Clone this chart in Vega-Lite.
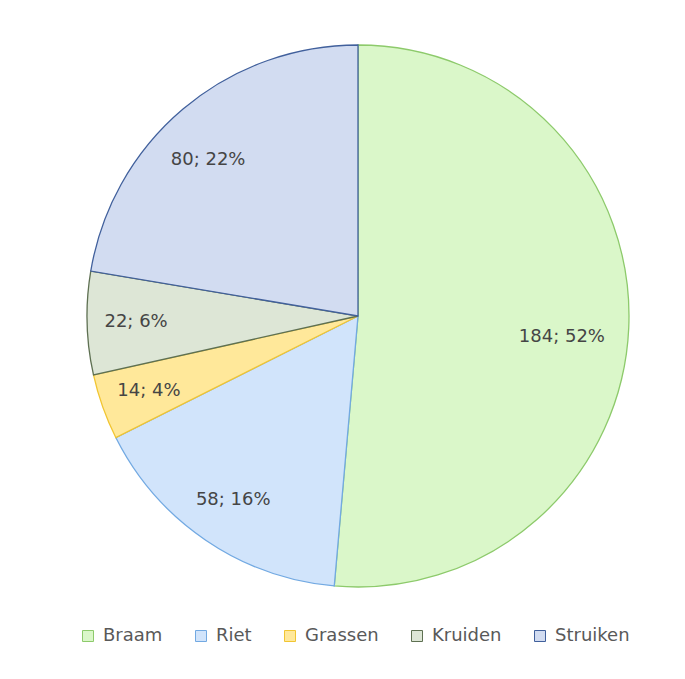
{
  "$schema": "https://vega.github.io/schema/vega-lite/v6.json",
  "width": 542,
  "height": 542,
  "autosize": {"type": "none"},
  "padding": {"left": 87, "top": 45, "right": 56, "bottom": 92},
  "background": "white",
  "config": {"view": {"stroke": null}, "font": "DejaVu Sans"},
  "data": {
    "values": [
      {"category": "Braam", "value": 184, "label": "184; 52%", "order": 1},
      {"category": "Riet", "value": 58, "label": "58; 16%", "order": 2},
      {"category": "Grassen", "value": 14, "label": "14; 4%", "order": 3},
      {"category": "Kruiden", "value": 22, "label": "22; 6%", "order": 4},
      {"category": "Struiken", "value": 80, "label": "80; 22%", "order": 5}
    ]
  },
  "transform": [
    {"stack": "value", "groupby": [], "sort": [{"field": "order", "order": "ascending"}], "as": ["v0", "v1"]},
    {"calculate": "(datum.v0 + datum.v1) / 2", "as": "mid"}
  ],
  "layer": [
    {
      "mark": {"type": "arc", "strokeWidth": 1.3},
      "encoding": {
        "theta": {"field": "v0", "type": "quantitative", "scale": {"domain": [0, 358]}},
        "theta2": {"field": "v1"},
        "color": {
          "field": "category",
          "type": "nominal",
          "scale": {
            "domain": ["Braam", "Riet", "Grassen", "Kruiden", "Struiken"],
            "range": ["#daf7c9", "#d1e4fb", "#ffe89a", "#dde6d6", "#d2dcf1"]
          },
          "legend": {
            "title": null,
            "orient": "none",
            "legendX": -8,
            "legendY": 582,
            "direction": "horizontal",
            "columns": 5,
            "symbolType": "square",
            "symbolSize": 121,
            "symbolStrokeWidth": 1,
            "labelFontSize": 18,
            "labelColor": "#595959",
            "labelOffset": 6,
            "columnPadding": 29
          }
        },
        "stroke": {
          "field": "category",
          "type": "nominal",
          "scale": {
            "domain": ["Braam", "Riet", "Grassen", "Kruiden", "Struiken"],
            "range": ["#8dca6b", "#72a9e2", "#f1c532", "#5e7052", "#41609c"]
          },
          "legend": null
        }
      }
    },
    {
      "transform": [{"filter": "datum.category === 'Braam'"}],
      "mark": {"type": "text", "fontSize": 18, "color": "#454545", "radius": 205, "thetaOffset": 0.06},
      "encoding": {
        "theta": {"field": "mid", "type": "quantitative", "stack": null, "scale": {"domain": [0, 358]}},
        "text": {"field": "label", "type": "nominal"}
      }
    },
    {
      "transform": [{"filter": "datum.category === 'Struiken'"}],
      "mark": {"type": "text", "fontSize": 18, "color": "#454545", "radius": 216, "thetaOffset": -0.065},
      "encoding": {
        "theta": {"field": "mid", "type": "quantitative", "stack": null, "scale": {"domain": [0, 358]}},
        "text": {"field": "label", "type": "nominal"}
      }
    },
    {
      "transform": [{"filter": "datum.category !== 'Braam' && datum.category !== 'Struiken'"}],
      "mark": {"type": "text", "fontSize": 18, "color": "#454545", "radius": 222},
      "encoding": {
        "theta": {"field": "mid", "type": "quantitative", "stack": null, "scale": {"domain": [0, 358]}},
        "text": {"field": "label", "type": "nominal"}
      }
    }
  ]
}
